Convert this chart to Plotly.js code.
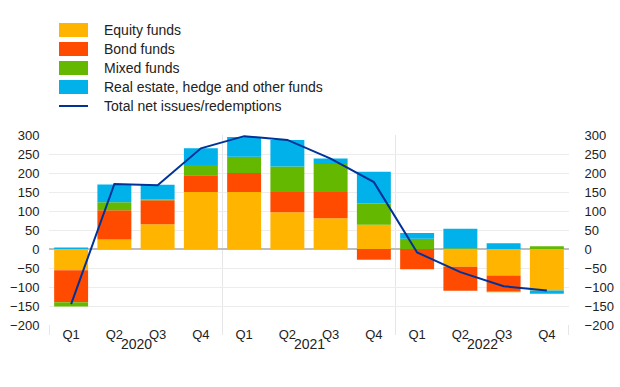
<!DOCTYPE html>
<html>
<head>
<meta charset="utf-8">
<script src="https://cdn.plot.ly/plotly-3.0.1.min.js"></script>
<style>html,body{margin:0;padding:0;background:#fff;}#chart{width:620px;height:387px;}</style>
</head>
<body>
<div id="chart"></div>
<script>
const years = ["2020","2020","2020","2020","2021","2021","2021","2021","2022","2022","2022","2022"];
const quarters = ["Q1","Q2","Q3","Q4","Q1","Q2","Q3","Q4","Q1","Q2","Q3","Q4"];
const equityFunds = [-56, 25, 65, 150, 150, 97, 81, 64, 0, -47, -70, -109];
const bondFunds = [-84, 77, 63, 44, 50, 53, 69, -28, -53, -63, -42, 0];
const mixedFunds = [-11, 21, 2, 27, 43, 67, 74, 56, 27, 2, -2, 7];
const otherFunds = [4, 47, 39, 44, 52, 70, 14, 83, 15, 51, 15, -9];
const totalNet = [-145, 171, 168, 265, 297, 287, 238, 176, -9, -61, -98, -109];
const seriesNames = ["Equity funds", "Bond funds", "Mixed funds", "Real estate, hedge and other funds", "Total net issues/redemptions"];
const seriesColors = ["#FFB400", "#FF4B00", "#65B800", "#00B1EA", "#003299"];

const cats = years.map((y, i) => y + " " + quarters[i]);
const FONT = '"Liberation Sans", Arial, Helvetica, sans-serif';
const font = {family: FONT, size: 13, color: '#222'};

function bar(i, vals) {
  return {type: 'bar', name: seriesNames[i], x: cats, y: vals, showlegend: false,
          marker: {color: seriesColors[i], line: {width: 0}}};
}

const traces = [
  bar(0, equityFunds),
  bar(1, bondFunds),
  bar(2, mixedFunds),
  bar(3, otherFunds),
  {type: 'scatter', mode: 'lines', name: seriesNames[4], x: cats, y: totalNet, showlegend: false,
   yaxis: 'y2', line: {color: seriesColors[4], width: 2}}
];

const yax = {
  range: [-200, 300], dtick: 50, tick0: 0, showgrid: true, gridcolor: '#ececec', gridwidth: 1,
  zeroline: true, zerolinecolor: '#bdbdbd', zerolinewidth: 2, showline: false,
  ticks: 'outside', ticklen: 6, tickcolor: 'rgba(0,0,0,0)', tickfont: font, fixedrange: true
};

// plot area in pixels
const L = 49, R = 51, T = 135, B = 62, W = 620, H = 387;
const pw = W - L - R, ph = H - T - B;
const px = v => (v - L) / pw;
const py = v => (H - B - v) / ph;

const shapes = [];
const annotations = [];

// year group dividers and year labels
const groups = [];
years.forEach((y, i) => {
  if (!groups.length || groups[groups.length - 1].year !== y) groups.push({year: y, first: i, last: i});
  else groups[groups.length - 1].last = i;
});
groups.forEach((g, gi) => {
  annotations.push({text: g.year, xref: 'x', yref: 'paper', x: (g.first + g.last) / 2, y: 0,
                    yshift: -19, yanchor: 'middle', xanchor: 'center', showarrow: false,
                    font: {family: FONT, size: 14, color: '#222'}});
  const edge = g.first - 0.5;
  shapes.push({type: 'line', xref: 'x', yref: 'paper', x0: edge, x1: edge,
               y0: -10 / ph, y1: gi === 0 ? 0 : 1, line: {color: '#e6e6e6', width: 1}, layer: 'below'});
});
const lastEdge = years.length - 0.5;
shapes.push({type: 'line', xref: 'x', yref: 'paper', x0: lastEdge, x1: lastEdge,
             y0: -10 / ph, y1: 0, line: {color: '#e6e6e6', width: 1}, layer: 'below'});

// legend
const rowY = [30, 49, 68, 87, 106];
seriesNames.forEach((name, i) => {
  if (i < 4) {
    shapes.push({type: 'rect', xref: 'paper', yref: 'paper', x0: px(59), x1: px(88),
                 y0: py(rowY[i] + 7), y1: py(rowY[i] - 7), fillcolor: seriesColors[i], line: {width: 0}});
  } else {
    shapes.push({type: 'line', xref: 'paper', yref: 'paper', x0: px(59), x1: px(88),
                 y0: py(rowY[i]), y1: py(rowY[i]), line: {color: seriesColors[i], width: 2}});
  }
  annotations.push({text: name, xref: 'paper', yref: 'paper', x: px(102), y: py(rowY[i]),
                    xanchor: 'left', yanchor: 'middle', showarrow: false,
                    font: {family: FONT, size: 14, color: '#222'}});
});

const layout = {
  width: W, height: H,
  margin: {l: L, r: R, t: T, b: B, pad: 0},
  paper_bgcolor: '#fff', plot_bgcolor: '#fff',
  font: font,
  barmode: 'relative', bargap: 0.215,
  showlegend: false,
  xaxis: {type: 'category', tickvals: cats, ticktext: quarters, showgrid: false, showline: false,
          ticks: '', tickfont: font, zeroline: false, fixedrange: true},
  yaxis: yax,
  yaxis2: Object.assign({}, yax, {overlaying: 'y', side: 'right', showgrid: false, zeroline: false, ticklen: 12}),
  shapes: shapes,
  annotations: annotations
};

Plotly.newPlot('chart', traces, layout, {displayModeBar: false, staticPlot: true});
</script>
</body>
</html>
